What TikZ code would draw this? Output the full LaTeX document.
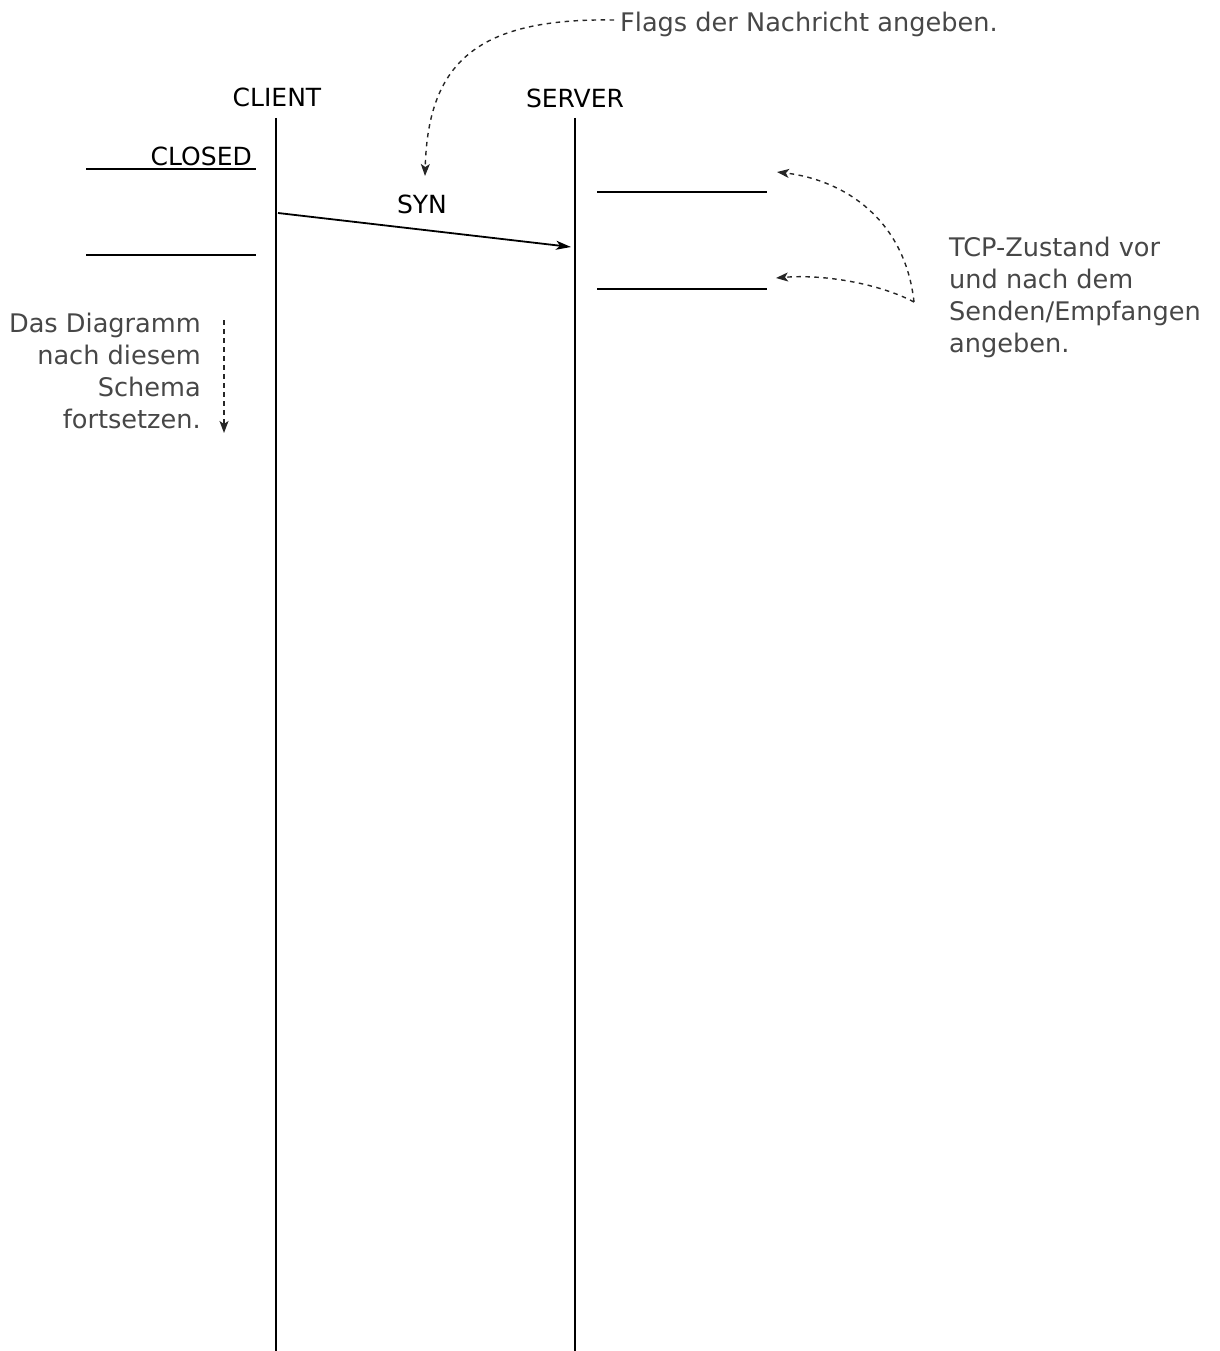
\documentclass[tikz,border=0pt]{standalone}
\usepackage{fontspec}
\setmainfont{DejaVu Sans}
\usetikzlibrary{arrows.meta}
\begin{document}
\begin{tikzpicture}[x=1pt,y=-1pt,
  lifeline/.style={line width=2.2pt,black},
  stateline/.style={line width=2.2pt,black},
  msg/.style={line width=1.8pt,-{Stealth[length=15pt,width=9pt,inset=4pt]}},
  hint/.style={line width=1.4pt,black!85,dash pattern=on 4.5pt off 4.5pt,-{Stealth[length=12pt,width=9pt,inset=3pt]}},
  lbl/.style={inner sep=0pt,font=\fontsize{25}{32}\selectfont,text=black},
  note/.style={inner sep=0pt,font=\fontsize{25.6}{32}\selectfont,text=black!72}]
\useasboundingbox (0,0) rectangle (1219,1351);
% lifelines
\node[lbl] (client) at (277,97) {CLIENT};
\node[lbl] (server) at (575,98) {SERVER};
\coordinate (ctop) at (276,118);
\coordinate (cbot) at (276,1351);
\coordinate (stop) at (575,118);
\coordinate (sbot) at (575,1351);
\draw[lifeline] (ctop) -- (cbot);
\draw[lifeline] (stop) -- (sbot);
% client states
\node[lbl,anchor=base east] (closed) at (252,166) {CLOSED};
\coordinate (c1a) at (86,169); \coordinate (c1b) at (256,169);
\coordinate (c2a) at (86,255); \coordinate (c2b) at (256,255);
\draw[stateline] (c1a) -- (c1b);
\draw[stateline] (c2a) -- (c2b);
% server states
\coordinate (s1a) at (597,192); \coordinate (s1b) at (767,192);
\coordinate (s2a) at (597,289); \coordinate (s2b) at (767,289);
\draw[stateline] (s1a) -- (s1b);
\draw[stateline] (s2a) -- (s2b);
% message
\coordinate (synfrom) at (278,213);
\coordinate (synto) at (571,247);
\draw[msg] (synfrom) -- (synto);
\node[lbl] (syn) at (422,204) {SYN};
% annotations
\node[note,anchor=west] (flags) at (620,24) {Flags der Nachricht angeben.};
\coordinate (flagsend) at (425,176);
\draw[hint] (flags.west) ++(-6,-4) coordinate (flagsstart)
  (flagsstart) .. controls (480,18) and (428,60) .. (flagsend);
\node[note,anchor=north west,align=left] (tcp) at (949,237) {TCP-Zustand vor\\und nach dem\\Senden/Empfangen\\angeben.};
\coordinate (tcpfrom) at (914,302);
\coordinate (tcpto1) at (777,172);
\coordinate (tcpto2) at (776,278);
\draw[hint] (tcpfrom) .. controls (905,220) and (845,180) .. (tcpto1);
\draw[hint] (tcpfrom) .. controls (880,284) and (825,274) .. (tcpto2);
\node[note,anchor=north east,align=right] (cont) at (201,313) {Das Diagramm\\nach diesem\\Schema\\fortsetzen.};
\coordinate (conta) at (224,320);
\coordinate (contb) at (224,433);
\draw[hint] (conta) -- (contb);
\end{tikzpicture}
\end{document}
